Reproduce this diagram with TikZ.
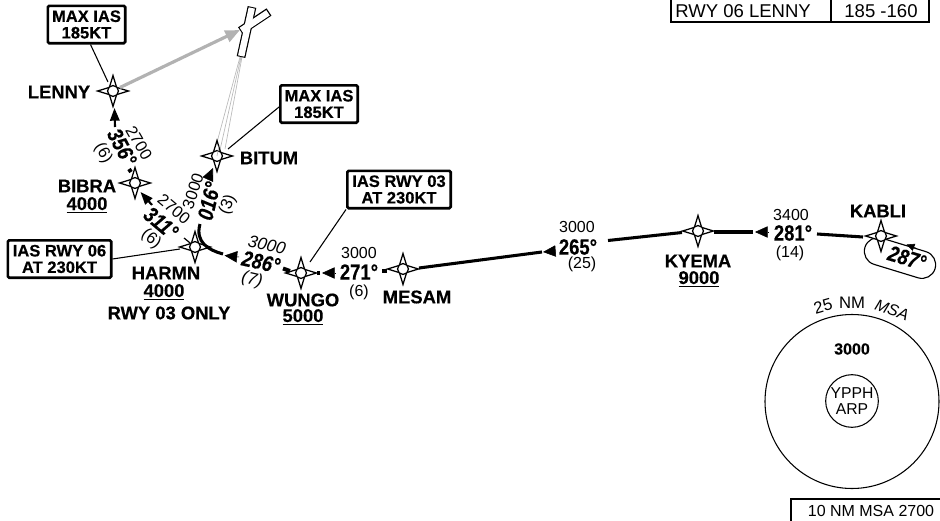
\documentclass[tikz,border=0pt]{standalone}
\usepackage{graphicx}
\usepackage{fontspec}
\setmainfont[BoldFeatures={FakeBold=0.4},BoldItalicFeatures={FakeBold=0.4}]{Liberation Sans}
\usetikzlibrary{arrows.meta,shapes.misc}
\newcommand{\fs}[1]{\fontsize{#1}{#1}\selectfont}
\newcommand{\nar}[1]{\scalebox{.84}[1]{#1}}
\newcommand{\wpt}[3]{%
  \draw[line width=.95pt,fill=white,line join=miter] (#2,#3-15.5) -- (#2+3.6,#3-3.6) -- (#2+15.5,#3) -- (#2+3.6,#3+3.6) -- (#2,#3+15.5) -- (#2-3.6,#3+3.6) -- (#2-15.5,#3) -- (#2-3.6,#3-3.6) -- cycle;
  \node[wptc] (#1) at (#2,#3) {};}
\tikzset{
  wptc/.style={circle,draw,fill=white,line width=.95pt,minimum size=8.2pt,inner sep=0pt},
  lab/.style={font=\bfseries\fs{13.8},inner sep=0pt,align=center},
  boxed/.style={draw,line width=2pt,rounded corners=1pt,font=\bfseries\fs{12.4},align=center,inner sep=0pt},
  hdg/.style={font=\bfseries\fs{16.5},inner sep=0pt},
  hdgi/.style={font=\bfseries\itshape\fs{16.5},inner sep=0pt},
  alt/.style={font=\fs{12},inner sep=0pt},
  altr/.style={font=\fs{12.3},inner sep=0pt},
  alti/.style={font=\itshape\fs{12.8},inner sep=0pt},
  leader/.style={line width=.8pt},
  trk/.style={line width=2.3pt},
  head/.style={line width=.4pt,-{Triangle[length=9.5pt,width=8.5pt]}},
  shead/.style={line width=.4pt,-{Triangle[length=6pt,width=5.5pt]}},
  ahead/.style={line width=1.6pt,-{Triangle[length=9.5pt,width=7pt]}},
  tbl/.style={line width=.8pt},
}
\begin{document}
\begin{tikzpicture}[x=.75pt,y=-.75pt]
\useasboundingbox (0,0) rectangle (940,521);
% tables
\draw[tbl] (671,0) -- (671,22) -- (929,22) -- (929,0) (831,0) -- (831,22);
\node[font=\fs{13.9},inner sep=0pt,anchor=west] (t1) at (675,11) {RWY 06 LENNY};
\node[font=\fs{13.9},inner sep=0pt] (t2) at (881,11) {185 -160};
\draw[tbl] (791,521) -- (791,499) -- (940,499);
\node[font=\fs{12},inner sep=0pt] (t3) at (871,511) {10 NM MSA 2700};
% MSA
\node[circle,draw,line width=.8pt,minimum size=130.5pt,inner sep=0pt] (msa) at (852,401.5) {};
\node[circle,draw,line width=.8pt,minimum size=39.5pt,inner sep=0pt,font=\fs{11.8},align=center] (arp) at (852,401) {YPPH\\[-.4pt]ARP};
\node[font=\bfseries\fs{12},inner sep=0pt] (m3) at (852,349) {3000};
\node[font=\fs{12.5},inner sep=0pt,rotate=16] (m25) at (823,306) {25};
\node[font=\fs{12.5},inner sep=0pt] (mnm) at (852,303) {NM};
\node[font=\itshape\fs{12},inner sep=0pt,rotate=-20] (mms) at (892,310) {MSA};
% runway and approach lines
\coordinate (rwa) at (240,57);
\draw[gray!55,line width=.5pt] (rwa) -- (216,146) (241,57) -- (220,150) (242,57) -- (225,149);
\draw[line width=6.6pt] (240.5,31) -- (269,12);
\draw[line width=6.6pt] (241,57) -- (252,7);
\draw[white,line width=4.8pt] (241.5,30.4) -- (268,12.8);
\draw[white,line width=4.8pt] (241.2,56) -- (251.8,8);
% holding
\node[rounded rectangle,draw,line width=.85pt,rotate=-17,minimum width=55pt,minimum height=20.5pt,inner sep=0pt] (hold) at (900,258) {};
\coordinate (ha) at (917,248.5); \coordinate (hb) at (906.5,244.5);
\draw[shead] (ha) -- (hb);
\node[hdgi,rotate=-17] (h287) at (907,258) {\nar{287°}};
% waypoints
\wpt{lenny}{113}{91}
\wpt{bitum}{217}{156}
\wpt{bibra}{135}{183}
\wpt{harmn}{195}{247}
\wpt{wungo}{301}{273}
\wpt{mesam}{403}{269}
\wpt{kyema}{698}{231}
\wpt{kabli}{881}{236}
\coordinate (hs) at (184,238);
\draw[line width=.9pt] (hs) -- (harmn);
% grey lines over BITUM
\draw[gray!55,line width=.5pt] (219,146) -- (217,156);
% grey arrow
\coordinate (rwt) at (240,30);
\draw[gray!60,line width=2.4pt,-{Triangle[length=11pt,width=9pt]}] (lenny) ++(7,-3.5) -- (rwt);
% track segments
\coordinate (a1) at (863,237); \coordinate (a2) at (817,234);
\draw[trk] (a1) -- (a2);
\coordinate (a3) at (753,232); \coordinate (a4) at (714,232);
\draw[trk] (a3) -- (a4);
\coordinate (a5) at (768,232); \coordinate (a6) at (755,232);
\draw[head] (a5) -- (a6);
\coordinate (b1) at (682,232.5); \coordinate (b2) at (608,240.5);
\draw[trk] (b1) -- (b2);
\coordinate (c1) at (542,252); \coordinate (c2) at (419,268);
\draw[trk] (c1) -- (c2);
\coordinate (c3) at (556,251); \coordinate (c4) at (543,252);
\draw[head] (c3) -- (c4);
\coordinate (d1) at (387,271); \coordinate (d2) at (382,271);
\draw[line width=3pt] (d1) -- (d2);
\coordinate (e1) at (335,273); \coordinate (e2) at (322,273);
\draw[head] (e1) -- (e2);
\coordinate (e3) at (320,273); \coordinate (e4) at (317,273);
\draw[line width=3pt] (e3) -- (e4);
\coordinate (f1) at (290,271); \coordinate (f2) at (283,268.5);
\draw[line width=3pt] (f1) -- (f2);
\coordinate (g1) at (239,257); \coordinate (g2) at (224.5,255.5);
\draw[head] (g1) -- (g2);
\coordinate (g3) at (223,254); \coordinate (g4) at (200,224);
\draw[trk] (g3) .. controls (208,250) and (195,242) .. (g4);
\coordinate (i1) at (208.5,178); \coordinate (i2) at (213,168);
\draw[head] (i1) -- (i2);
\coordinate (j1) at (152,205); \coordinate (j2) at (140.5,192);
\draw[ahead] (j1) -- (j2);
\coordinate (j3) at (131,172); \coordinate (j4) at (129,169);
\draw[line width=3pt] (j3) -- (j4);
\coordinate (k1) at (115,127); \coordinate (k2) at (114.5,108);
\draw[ahead] (k1) -- (k2);
% boxes and leaders
\node[boxed,minimum width=58pt,minimum height=28pt] (bx1) at (86.5,24.5) {MAX IAS\\185KT};
\node[boxed,minimum width=58pt,minimum height=28pt] (bx2) at (319,104) {MAX IAS\\185KT};
\node[boxed,minimum width=77.5pt,minimum height=28pt] (bx3) at (399,189.5) {IAS RWY 03\\AT 230KT};
\node[boxed,minimum width=77.5pt,minimum height=28pt] (bx4) at (59.5,259) {IAS RWY 06\\AT 230KT};
\coordinate (l1) at (108,82); \draw[leader] (bx1.south)++(4,0) -- (l1);
\coordinate (l2) at (228,149); \draw[leader] (bx2.west)++(0,3) -- (l2);
\coordinate (l3) at (310,262); \draw[leader] (bx3.south west) -- (l3);
\coordinate (l4) at (180,249); \draw[leader] (bx4.east) -- (l4);
% waypoint labels
\node[lab] (n1) at (59,92) {LENNY};
\node[lab] (n2) at (269,158) {BITUM};
\node[lab] (n3) at (87,186) {BIBRA};
\node[lab] (n4) at (87,205) {\underline{4000}};
\node[lab] (n5) at (166,273) {HARMN};
\node[lab] (n6) at (164,292) {\underline{4000}};
\node[lab] (n7) at (169,313) {RWY 03 ONLY};
\node[lab] (n8) at (303,300) {WUNGO};
\node[lab] (n9) at (303,317) {\underline{5000}};
\node[lab] (n10) at (417,297) {MESAM};
\node[lab] (n11) at (698,261) {KYEMA};
\node[lab] (n12) at (699,279) {\underline{9000}};
\node[lab] (n13) at (878,211) {KABLI};
% headings
\node[hdgi,rotate=-62] (h1) at (122,147) {\nar{356°}};
\node[altr,rotate=-60] (h1a) at (139,143) {2700};
\node[altr,rotate=-60] (h1b) at (103,153) {(6)};
\node[hdgi,rotate=-40] (h2) at (161,223) {\nar{311°}};
\node[altr,rotate=-40] (h2a) at (174,209) {2700};
\node[altr,rotate=-40] (h2b) at (151,239) {(6)};
\node[hdgi,rotate=77] (h3) at (209,201) {\nar{016°}};
\node[altr,rotate=72] (h3a) at (193,191) {3000};
\node[altr,rotate=68] (h3b) at (228,205) {(3)};
\node[hdgi,rotate=-13] (h4) at (261,262) {\nar{286°}};
\node[alti,rotate=-13] (h4a) at (267,245) {3000};
\node[alti,rotate=-13] (h4b) at (252,280) {(7)};
\node[hdg] (h5) at (359,272) {\nar{271°}};
\node[alt] (h5a) at (359,253) {3000};
\node[alt] (h5b) at (359,292) {(6)};
\node[hdg] (h6) at (578,247) {\nar{265°}};
\node[alt] (h6a) at (577,227) {3000};
\node[alt] (h6b) at (582,264) {(25)};
\node[hdg] (h7) at (793,233) {\nar{281°}};
\node[alt] (h7a) at (791,215) {3400};
\node[alt] (h7b) at (790,253) {(14)};
\end{tikzpicture}
\end{document}
